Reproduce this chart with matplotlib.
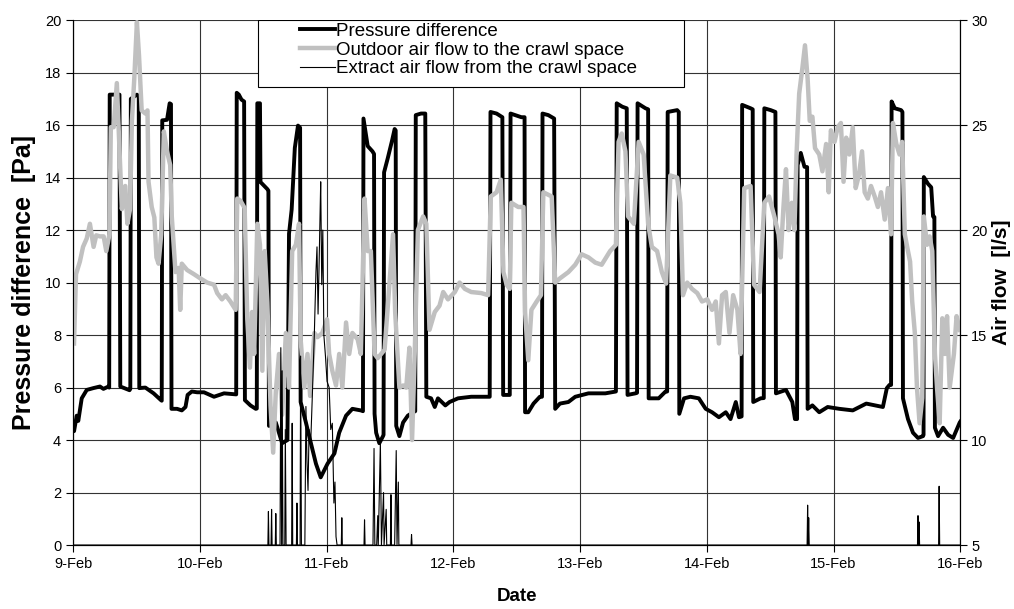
import matplotlib
matplotlib.use('Agg')
import matplotlib.pyplot as plt
from matplotlib.patches import Rectangle

plt.rcParams['font.family'] = ['Liberation Sans', 'DejaVu Sans']

# hours after 9-Feb 00:00 -> value
day_labels = ['9-Feb', '10-Feb', '11-Feb', '12-Feb', '13-Feb', '14-Feb', '15-Feb', '16-Feb']

# pressure difference [Pa]
pressure = [
    (0.0, 4.4), (0.2, 4.34), (0.7, 4.93), (1.0, 4.73), (1.65, 5.59), (2.6, 5.91), (3.86, 5.98),
    (5.1, 6.04), (5.76, 5.95), (6.71, 6.04), (6.85, 6.0), (6.95, 17.16), (8.8, 17.16), (8.95, 6.04),
    (10.7, 5.9), (10.85, 5.95), (10.95, 17.0), (12.1, 17.16), (12.45, 17.1), (12.55, 5.98),
    (13.7, 6.0), (15.26, 5.78), (16.66, 5.52), (16.8, 5.5), (16.9, 16.18), (17.8, 16.2),
    (18.3, 16.83), (18.55, 16.8), (18.65, 5.19), (19.7, 5.19), (20.6, 5.13), (21.3, 5.26),
    (21.7, 5.72), (22.5, 5.85), (23.5, 5.82), (24.8, 5.82), (26.7, 5.65), (28.6, 5.78),
    (30.8, 5.74), (30.9, 5.74), (31.0, 17.23), (31.4, 17.16), (31.9, 16.97), (32.4, 16.9),
    (32.55, 5.52), (33.6, 5.32), (34.6, 5.19), (34.8, 5.2), (34.9, 16.83), (35.4, 16.83),
    (35.5, 13.83), (36.8, 13.56), (37.0, 13.5), (37.1, 4.54), (38.4, 4.67), (39.6, 3.88),
    (40.6, 4.0), (40.9, 11.86), (41.4, 12.78), (42.0, 15.13), (42.6, 15.98), (43.0, 15.9),
    (43.1, 5.45), (44.1, 4.67), (44.9, 4.0), (46.0, 3.1), (46.9, 2.58), (48.2, 3.1), (49.5, 3.49),
    (50.4, 4.28), (51.7, 4.93), (52.9, 5.19), (54.5, 5.13), (54.9, 5.1), (55.0, 16.25),
    (55.8, 15.2), (56.7, 15.0), (57.0, 14.9), (57.1, 5.0), (57.4, 4.28), (58.0, 3.88),
    (58.7, 4.15), (58.8, 4.2), (58.9, 14.2), (59.6, 14.74), (60.4, 15.4), (60.9, 15.85),
    (61.1, 15.8), (61.2, 4.54), (61.8, 4.15), (62.5, 4.67), (63.4, 4.93), (64.4, 5.06),
    (64.8, 5.1), (64.9, 16.38), (65.9, 16.44), (66.7, 16.44), (66.9, 5.65), (67.8, 5.59),
    (68.5, 5.26), (69.1, 5.59), (70.5, 5.32), (71.3, 5.45), (72.9, 5.59), (75.4, 5.65),
    (78.9, 5.65), (79.05, 16.5), (80.2, 16.44), (81.3, 16.3), (81.45, 5.72), (82.7, 5.72),
    (82.85, 16.44), (84.9, 16.3), (85.5, 16.3), (85.6, 5.06), (86.2, 5.06), (87.2, 5.39),
    (88.4, 5.65), (88.8, 5.65), (88.9, 16.44), (90.0, 16.38), (91.1, 16.25), (91.3, 5.19),
    (92.2, 5.39), (93.8, 5.45), (95.1, 5.65), (97.6, 5.78), (100.8, 5.78), (102.8, 5.85),
    (102.95, 16.83), (104.0, 16.7), (104.85, 16.64), (105.0, 5.72), (106.5, 5.78), (106.8, 5.8),
    (106.9, 16.83), (108.4, 16.64), (108.9, 16.6), (109.0, 5.59), (110.9, 5.59), (112.2, 5.85),
    (112.5, 5.85), (112.6, 16.5), (114.4, 16.57), (114.7, 16.5), (114.8, 5.0), (115.7, 5.59),
    (116.9, 5.65), (118.5, 5.59), (119.8, 5.19), (121.0, 5.06), (122.3, 4.87), (123.6, 5.06),
    (124.5, 4.8), (125.5, 5.45), (126.1, 4.87), (126.6, 4.9), (126.7, 16.77), (128.3, 16.64),
    (128.7, 16.6), (128.8, 5.45), (130.2, 5.59), (130.8, 5.6), (130.9, 16.64), (132.1, 16.57),
    (133.0, 16.5), (133.1, 5.78), (135.0, 5.91), (136.2, 5.45), (136.7, 4.8), (137.1, 4.8),
    (137.2, 14.48), (137.8, 14.94), (138.5, 14.41), (139.0, 14.4), (139.1, 5.19), (140.0, 5.32),
    (141.3, 5.06), (142.9, 5.26), (145.1, 5.19), (147.65, 5.13), (150.2, 5.39), (153.35, 5.26),
    (154.1, 5.98), (154.6, 6.1), (154.9, 6.1), (155.0, 16.9), (155.6, 16.64), (156.8, 16.57),
    (157.05, 16.5), (157.15, 5.59), (158.1, 4.8), (159.05, 4.28), (160.0, 4.08), (160.95, 4.15),
    (161.05, 4.2), (161.1, 14.02), (161.9, 13.76), (162.5, 13.63), (162.85, 12.52), (163.1, 12.5),
    (163.2, 4.47), (163.8, 4.15), (164.75, 4.47), (165.7, 4.2), (166.65, 4.08), (167.9, 4.67),
    (168.0, 4.7),
]

# outdoor air flow to the crawl space [l/s]
outdoor = [
    (0.19, 14.6), (0.57, 17.9), (1.3, 18.5), (1.9, 19.2), (2.6, 19.6), (3.2, 20.3), (3.9, 19.2),
    (4.4, 19.75), (5.1, 19.7), (5.8, 19.7), (6.3, 19.0), (6.9, 19.8), (7.16, 24.9), (7.7, 24.9),
    (8.3, 27.0), (8.8, 23.9), (9.25, 21.0), (9.9, 22.1), (10.3, 20.3), (10.8, 21.0), (11.15, 25.2),
    (11.6, 27.2), (12.1, 29.9), (12.5, 28.3), (13.0, 25.7), (13.7, 25.55), (14.1, 25.7),
    (14.3, 22.3), (14.9, 21.1), (15.4, 20.6), (15.8, 18.7), (16.2, 18.4), (16.7, 19.8),
    (17.2, 24.7), (17.8, 23.75), (18.4, 23.1), (18.7, 20.65), (19.4, 18.0), (20.0, 18.2),
    (20.3, 16.2), (20.6, 18.4), (21.6, 18.1), (22.9, 17.9), (24.1, 17.7), (25.4, 17.5),
    (26.7, 17.4), (27.3, 17.0), (28.2, 16.7), (28.9, 16.9), (29.8, 16.6), (30.8, 16.2),
    (31.1, 21.5), (31.7, 21.4), (32.5, 21.05), (33.0, 15.75), (33.5, 13.45), (33.9, 16.1),
    (34.3, 14.1), (34.9, 20.3), (35.4, 19.3), (35.85, 13.3), (36.3, 19.0), (36.8, 16.55),
    (37.4, 11.65), (37.9, 9.4), (38.4, 12.3), (39.0, 14.1), (39.6, 11.2), (40.3, 15.1),
    (40.9, 12.5), (41.5, 19.0), (42.2, 19.3), (42.8, 20.3), (43.1, 14.8), (43.8, 12.5),
    (44.4, 14.1), (44.9, 12.1), (45.7, 15.1), (46.3, 14.9), (47.2, 15.1), (48.1, 15.75),
    (48.5, 14.1), (49.1, 13.3), (49.8, 12.6), (50.4, 14.1), (51.0, 12.5), (51.7, 15.6),
    (52.3, 14.1), (52.9, 15.1), (53.9, 14.8), (54.5, 14.1), (55.2, 21.5), (55.8, 19.0),
    (56.4, 19.0), (57.1, 14.1), (57.7, 13.9), (59.0, 14.3), (59.9, 17.4), (60.6, 19.8),
    (61.0, 16.1), (61.8, 12.5), (62.5, 12.6), (63.1, 12.5), (63.7, 14.4), (64.2, 10.0),
    (64.7, 14.1), (65.3, 20.0), (66.3, 20.65), (66.9, 20.3), (67.5, 15.25), (68.5, 16.1),
    (69.4, 16.4), (70.1, 17.05), (71.0, 16.7), (72.3, 17.05), (73.2, 17.5), (74.2, 17.2),
    (75.4, 17.05), (77.3, 17.0), (78.6, 16.9), (79.1, 21.6), (80.2, 21.8), (81.0, 22.4),
    (81.5, 18.0), (82.1, 17.4), (82.7, 17.2), (83.0, 21.3), (84.3, 21.1), (85.3, 21.1),
    (85.6, 16.1), (86.2, 13.8), (86.8, 16.2), (87.8, 16.6), (88.6, 16.9), (89.06, 21.8),
    (90.64, 21.6), (91.3, 17.5), (92.2, 17.7), (93.8, 18.0), (95.1, 18.35), (96.3, 18.85),
    (97.6, 18.7), (98.9, 18.45), (100.1, 18.35), (101.7, 19.0), (102.8, 19.3), (103.3, 24.2),
    (103.9, 24.6), (104.6, 23.75), (105.1, 20.65), (106.2, 20.3), (107.1, 24.2), (108.05, 23.6),
    (108.9, 20.3), (109.6, 19.2), (110.6, 19.0), (111.5, 18.0), (112.3, 17.45), (113.1, 22.6),
    (114.4, 22.5), (115.0, 21.3), (115.5, 16.9), (116.3, 17.5), (117.2, 17.2), (118.2, 17.0),
    (119.1, 16.6), (120.1, 16.7), (121.0, 16.2), (121.7, 16.6), (122.3, 14.6), (122.9, 16.9),
    (123.6, 17.05), (124.3, 15.1), (125.0, 16.9), (125.8, 16.2), (126.4, 14.1), (127.1, 22.0),
    (128.3, 22.1), (128.96, 17.4), (130.0, 17.05), (130.9, 21.3), (131.8, 21.6), (132.8, 20.65),
    (133.6, 19.8), (134.0, 18.7), (134.5, 21.0), (135.0, 22.9), (135.5, 20.0), (136.1, 21.3),
    (136.6, 20.0), (137.0, 23.6), (137.5, 26.5), (138.1, 27.7), (138.6, 28.8), (139.1, 27.2),
    (139.5, 25.2), (140.0, 25.4), (140.5, 23.9), (141.3, 23.6), (141.9, 22.8), (142.6, 24.1),
    (143.1, 21.8), (143.5, 24.75), (144.2, 24.2), (144.8, 24.9), (145.4, 25.1), (145.9, 22.3),
    (146.4, 24.4), (147.0, 23.6), (147.65, 24.9), (148.2, 22.0), (148.8, 22.6), (149.4, 23.75),
    (149.9, 21.8), (150.5, 21.5), (151.1, 22.1), (151.8, 21.6), (152.4, 21.1), (153.0, 21.8),
    (153.7, 20.5), (154.3, 22.0), (154.9, 19.8), (155.25, 25.1), (155.9, 24.1), (156.5, 23.6),
    (157.0, 24.2), (157.5, 19.8), (158.1, 19.0), (158.5, 18.5), (158.9, 16.6), (159.4, 15.1),
    (159.8, 12.5), (160.3, 10.8), (160.8, 12.0), (161.1, 20.65), (161.7, 19.3), (162.2, 19.7),
    (162.7, 19.0), (163.2, 14.1), (163.6, 12.5), (164.1, 10.8), (164.6, 15.8), (165.1, 14.1),
    (165.5, 15.9), (166.0, 12.5), (166.8, 14.1), (167.3, 15.9), (167.9, 15.25),
]

# extract air flow from the crawl space [l/s]
extract = [
    (0.0, 5), (36.9, 5), (37.0, 6.6), (37.1, 5), (37.5, 5), (37.6, 6.7), (37.7, 5), (38.3, 5),
    (38.4, 6.5), (38.5, 5), (39.2, 5), (39.35, 14.4), (39.5, 5), (39.6, 13.3), (39.75, 5),
    (40.1, 5), (40.2, 10.5), (40.35, 5), (41.4, 5), (41.5, 10.8), (41.6, 5), (42.3, 5),
    (42.4, 7.0), (42.5, 5), (43.0, 5), (43.1, 14.0), (43.25, 5), (43.9, 5), (44.1, 11.6),
    (44.3, 9.0), (44.5, 7.6), (44.7, 10.5), (45.0, 9.8), (45.3, 12.0), (45.7, 15.1), (46.0, 18.0),
    (46.2, 19.2), (46.4, 16.0), (46.6, 18.4), (46.8, 21.0), (46.9, 22.3), (47.1, 17.4),
    (47.3, 20.0), (47.5, 15.0), (47.8, 14.0), (48.1, 12.8), (48.5, 12.5), (48.8, 10.5),
    (49.1, 10.8), (49.4, 7.0), (49.6, 8.0), (49.8, 5.4), (50.0, 5), (50.8, 5), (50.9, 6.3),
    (51.0, 5), (55.1, 5), (55.2, 6.2), (55.3, 5), (56.8, 5), (57.0, 9.6), (57.15, 5), (57.5, 5),
    (57.7, 6.4), (57.8, 5), (58.2, 9.9), (58.4, 5), (58.8, 7.5), (58.9, 5), (59.3, 6.7),
    (59.4, 5), (60.1, 5), (60.2, 7.4), (60.3, 5), (60.9, 5), (61.2, 9.5), (61.35, 5), (61.6, 8.0),
    (61.7, 5), (64.0, 5), (64.1, 5.5), (64.2, 5), (139.0, 5), (139.1, 6.9), (139.2, 5),
    (139.3, 6.3), (139.4, 5), (159.9, 5), (160.0, 6.4), (160.1, 5), (160.2, 6.1), (160.3, 5),
    (163.9, 5), (164.0, 7.8), (164.1, 5), (168.0, 5),
]

fig = plt.figure(figsize=(10.14, 6.09), dpi=100)
ax = fig.add_axes([0.072, 0.105, 0.875, 0.862])
ax2 = ax.twinx()

ph, pv = zip(*pressure)
oh, ov = zip(*outdoor)
eh, ev = zip(*extract)

l1, = ax.plot(ph, pv, color='black', lw=2.8, solid_joinstyle='round')
l2, = ax2.plot(oh, ov, color='#c0c0c0', lw=3.2, solid_joinstyle='round')
l3, = ax2.plot(eh, ev, color='black', lw=0.8)

ax.set_xlim(0, 168)
ax.set_ylim(0, 20)
ax2.set_ylim(5, 30)
ax.set_xticks(range(0, 169, 24))
ax.set_xticklabels(day_labels)
ax.set_yticks(range(0, 21, 2))
ax2.set_yticks(range(5, 31, 5))

ax.grid(True, color='0.2', lw=0.8)
ax.set_axisbelow(True)
for a in (ax, ax2):
    a.tick_params(direction='out', length=5, width=0.8, labelsize=10.5)
    for s in a.spines.values():
        s.set_linewidth(0.8)
ax2.tick_params(axis='y', pad=3)
ax.spines['top'].set_visible(False)
ax2.spines['top'].set_visible(False)

ax.set_xlabel('Date', fontsize=13.5, fontweight='bold', labelpad=12)
ax.set_ylabel('Pressure difference  [Pa]', fontsize=18, fontweight='bold')
ax.yaxis.set_label_coords(-0.042, 0.5)
ax2.set_ylabel('Air flow  [l/s]', fontsize=15, fontweight='bold', labelpad=3)

# legend box
box = Rectangle((0.2086, 0.872), 0.48, 0.128, transform=ax2.transAxes, facecolor='white',
                edgecolor='black', lw=0.8, zorder=4)
ax2.add_patch(box)
leg = ax2.legend([l1, l2, l3], ['Pressure difference', 'Outdoor air flow to the crawl space',
                                'Extract air flow from the crawl space'],
                 loc='upper left', bbox_to_anchor=(0.2525, 1.0), frameon=False, fontsize=13.5,
                 handlelength=1.87, handletextpad=0.05, labelspacing=0.08, borderpad=0.15,
                 borderaxespad=0)
leg.set_zorder(5)

plt.savefig('out.png', dpi=100)
